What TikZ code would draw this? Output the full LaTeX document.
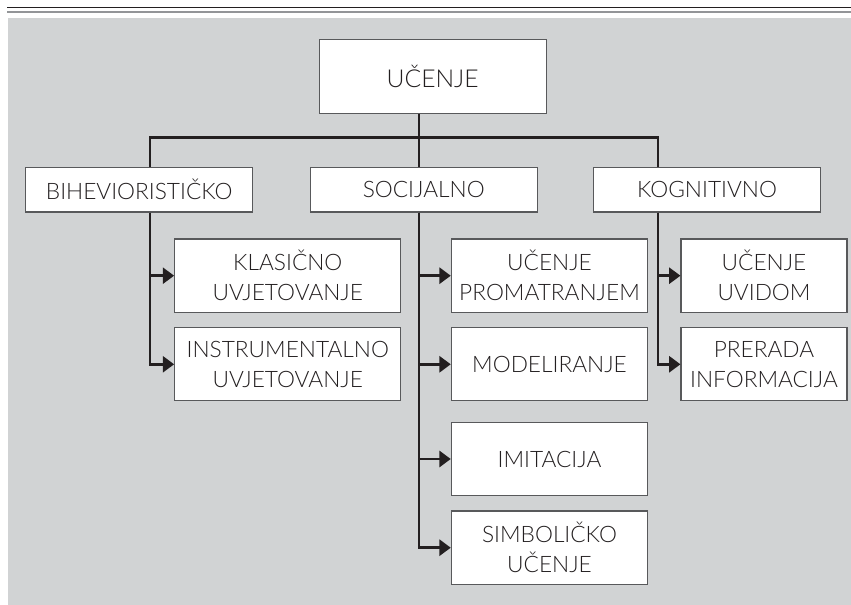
\documentclass[tikz,border=0pt]{standalone}
\usepackage{fontspec}
\setmainfont{Lato Light}
\usetikzlibrary{arrows.meta}

\definecolor{bg}{HTML}{D1D3D4}
\definecolor{ink}{HTML}{231F20}
\definecolor{boxline}{HTML}{58595B}
\definecolor{rulegray}{HTML}{939598}

\begin{document}
\begin{tikzpicture}[x=0.75pt, y=-0.75pt,
    box/.style={draw=boxline, line width=0.8pt, fill=white, text=ink, align=center,
        inner sep=0pt, font=\fontsize{17}{22.5}\selectfont},
    headbox/.style={box, minimum width=170pt, minimum height=33.5pt},
    lbox/.style={box, minimum width=169.7pt, minimum height=55pt},
    mbox/.style={box, minimum width=147.3pt, minimum height=55pt},
    rbox/.style={box, minimum width=124.5pt, minimum height=55pt},
    link/.style={draw=ink, line width=2pt},
    arrow/.style={link, -{Triangle[length=8.5pt, width=12pt]}}]
    \useasboundingbox (0,0) rectangle (851,605);

    % background and top rules
    \fill[bg] (8,18) rectangle (851,605);
    \draw[ink, line width=0.9pt] (7,7.5) -- (851,7.5);
    \draw[rulegray, line width=1.3pt] (7,11.8) -- (851,11.8);

    % connector points
    \coordinate (lft) at (150,137.3);
    \coordinate (hub) at (419,137.3);
    \coordinate (rgt) at (658,137.3);

    % boxes
    \node[box, minimum width=170pt, minimum height=55.7pt,
        font=\fontsize{18.5}{20}\selectfont] (ucenje) at (432.7,76.2) {UČENJE};
    \node[headbox] (bihev) at (139.2,189.7) {BIHEVIORISTIČKO};
    \node[headbox] (soc) at (423.7,189.7) {SOCIJALNO};
    \node[headbox] (kog) at (707,189.7) {KOGNITIVNO};

    \node[lbox] (klas) at (287.8,275.7) {KLASIČNO\\UVJETOVANJE};
    \node[lbox] (instr) at (287.8,364.3) {INSTRUMENTALNO\\UVJETOVANJE};

    \node[mbox] (prom) at (549.5,275.7) {UČENJE\\PROMATRANJEM};
    \node[mbox] (model) at (549.5,364.3) {MODELIRANJE};
    \node[mbox] (imit) at (549.5,459) {IMITACIJA};
    \node[mbox] (simb) at (549.5,547.7) {SIMBOLIČKO\\UČENJE};

    \node[rbox] (uvid) at (764,275.7) {UČENJE\\UVIDOM};
    \node[rbox] (prerada) at (764,364.3) {PRERADA\\INFORMACIJA};

    % connectors
    \draw[link] (ucenje.south -| hub) -- (soc.north -| hub);
    \draw[link] (bihev.north -| lft) |- (rgt) -- (kog.north -| rgt);

    \draw[arrow] (bihev.south -| lft) |- (klas.west);
    \draw[arrow] (bihev.south -| lft) |- (instr.west);

    \draw[arrow] (soc.south -| hub) |- (prom.west);
    \draw[arrow] (soc.south -| hub) |- (model.west);
    \draw[arrow] (soc.south -| hub) |- (imit.west);
    \draw[arrow] (soc.south -| hub) |- (simb.west);

    \draw[arrow] (kog.south -| rgt) |- (uvid.west);
    \draw[arrow] (kog.south -| rgt) |- (prerada.west);
\end{tikzpicture}
\end{document}
